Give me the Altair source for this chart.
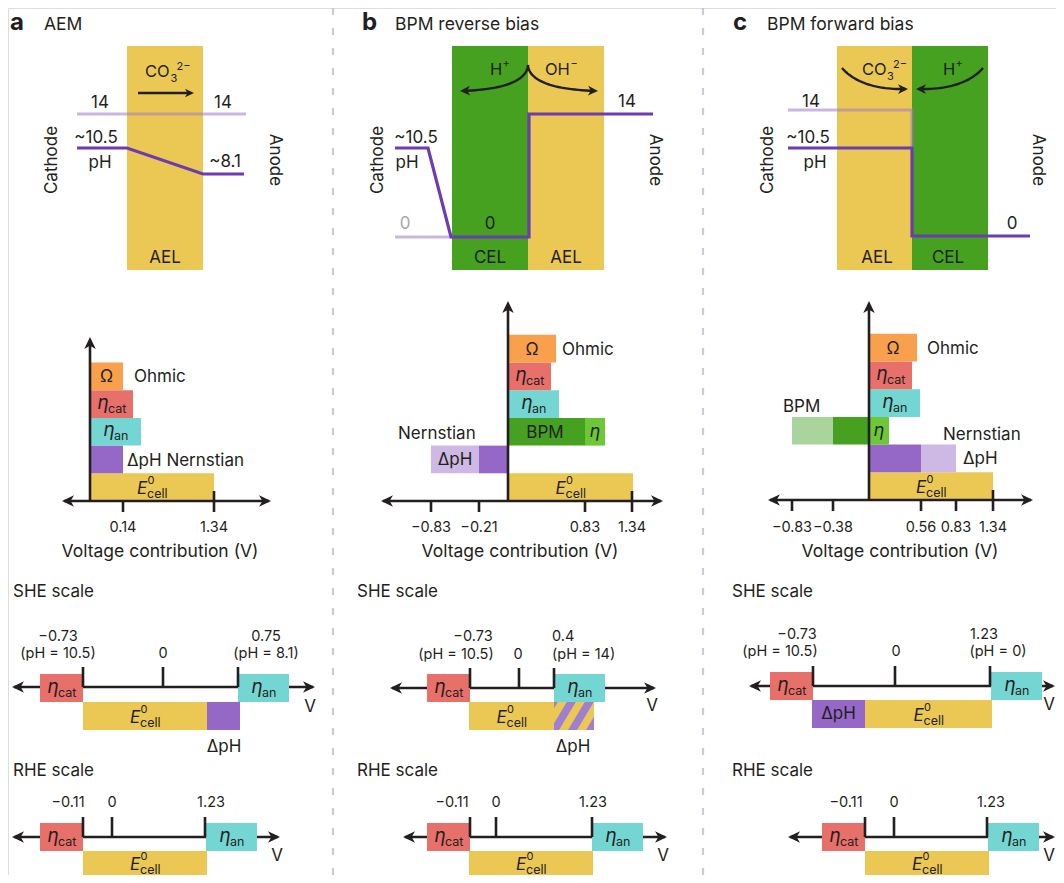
import math
import altair as alt
import pandas as pd

# ---------------- figure constants ----------------
W, H = 1048, 867
X0, X1 = 8, 8 + W
Y0, Y1 = 8, 8 + H
FONT = "Inter"
INK = "#231f20"
YELLOW = "#ebc754"
GREEN = "#45a11f"
LGREEN = "#6ec737"
PALEGREEN = "#a9d49b"
ORANGE = "#f8a04b"
RED = "#e8706b"
TEAL = "#74d6d2"
PURPLE = "#9567c6"
LPURPLE = "#cdb9e3"
LINEP = "#6d3bb2"
PALEP = "#9e7bc9"
SEP = "#c8ccd6"

# ---------------- data (labels / values) ----------------
PANEL_LETTERS = ["a", "b", "c"]
PANEL_TITLES = ["AEM", "BPM reverse bias", "BPM forward bias"]
TICKS_A = ["0.14", "1.34"]
TICKS_B = ["\u22120.83", "\u22120.21", "0.83", "1.34"]
TICKS_C = ["\u22120.83", "\u22120.38", "0.56", "0.83", "1.34"]
SHE_A = ["\u22120.73", "(pH = 10.5)", "0", "0.75", "(pH = 8.1)"]
SHE_B = ["\u22120.73", "(pH = 10.5)", "0", "0.4", "(pH = 14)"]
SHE_C = ["\u22120.73", "(pH = 10.5)", "0", "1.23", "(pH = 0)"]
RHE = ["\u22120.11", "0", "1.23"]

rects, back_lines, lines, heads, texts, hatch = [], [], [], [], [], []
gid = [0]


def R(x, x2, y, y2, fill, op=1.0):
    rects.append(dict(x=x, x2=x2, y=y, y2=y2, fill=fill, op=op))


def L(pts, color=INK, w=2.6, op=1.0, back=False):
    gid[0] += 1
    tgt = back_lines if back else lines
    for i, (x, y) in enumerate(pts):
        tgt.append(dict(g=gid[0], i=i, x=x, y=y, color=color, w=w, op=op))


ARROW = "M0,0L-1,-0.48L-0.72,0L-1,0.48Z"


def A(x, y, ang, size=576):
    heads.append(dict(x=x, y=y, ang=ang % 360, size=size))


def T(x, y, s, size=17, align="left", style="normal", weight="normal",
      angle=0, color=INK, base="alphabetic"):
    texts.append(dict(x=x, y=y, s=s, size=size, align=align, style=style,
                      weight=weight, angle=angle, color=color, base=base))


def eta(cx, cy, sub):
    w = 10 + (18 if sub == "cat" else 14)
    x0 = cx - w / 2
    T(x0, cy + 4.5, "\u03b7", 19, style="italic")
    T(x0 + 10.5, cy + 8.5, sub, 12.5)


def ecell(cx, cy):
    x0 = cx - 15
    T(x0, cy + 7, "E", 17, style="italic")
    T(x0 + 10.5, cy - 3, "0", 11)
    T(x0 + 10, cy + 11, "cell", 12.5)


def omega(cx, cy):
    T(cx, cy + 6, "\u03a9", 17, align="center")


def bez(p0, p1, p2, p3, n=30):
    out = []
    for k in range(n + 1):
        t = k / n
        a = (1 - t) ** 3
        b = 3 * (1 - t) ** 2 * t
        c = 3 * (1 - t) * t ** 2
        d = t ** 3
        out.append((a * p0[0] + b * p1[0] + c * p2[0] + d * p3[0],
                    a * p0[1] + b * p1[1] + c * p2[1] + d * p3[1]))
    return out


def curved_arrow(p0, p1, p2, p3):
    pts = bez(p0, p1, p2, p3)
    L(pts[:-1], INK, 2.4)
    (xa, ya), (xb, yb) = pts[-3], pts[-1]
    A(xb, yb, math.degrees(math.atan2(yb - ya, xb - xa)), 400)


# ---------------- panel titles ----------------
for (lx, tx), letter, title in zip([(10, 44), (362, 395), (733, 767)], PANEL_LETTERS, PANEL_TITLES):
    T(lx, 30, letter, 24, weight="bold")
    T(tx, 30, title, 17.5)

# ---------------- top: membrane schematics ----------------
for (x0, x1, fill) in [(127, 203, YELLOW), (452, 528, GREEN), (528, 604, YELLOW),
                       (837, 912, YELLOW), (912, 988, GREEN)]:
    R(x0, x1, 46, 270, fill)

L([(77, 114), (246, 114)], PALEP, 3.2, 0.55)
L([(77, 148), (127, 148), (203, 174), (244, 174)], LINEP, 3.2)
L([(395, 237), (452, 237)], PALEP, 3.2, 0.55)
L([(395, 148), (428, 148), (451, 237), (529, 237), (529, 114), (653, 114)], LINEP, 3.2)
L([(788, 110), (912, 110), (912, 148)], PALEP, 3.2, 0.55)
L([(788, 148), (912, 148), (912, 236), (1030, 236)], LINEP, 3.2)

# panel a labels
T(100, 108, "14", align="center"); T(223, 108, "14", align="center")
T(96, 143, "~10.5", align="center"); T(100, 168, "pH", align="center")
T(225, 167, "~8.1", align="center")
T(52, 160, "Cathode", angle=270, align="center", base="middle")
T(275, 160, "Anode", angle=90, align="center", base="middle")
T(145, 77, "CO", 16.5); T(170.5, 82, "3", 11); T(176.5, 70, "2\u2212", 11)
L([(138, 93), (188, 93)], INK, 2.4)
A(194, 93, 0, 324)
T(165, 263, "AEL", align="center")

# panel b labels
T(490, 75, "H", 16.5); T(502.5, 67, "+", 11)
T(545, 75, "OH", 16.5); T(570.5, 67, "\u2212", 11)
curved_arrow((528, 65), (527, 82), (500, 90), (460, 91))
curved_arrow((528, 65), (529, 82), (556, 90), (598, 91))
T(627, 107, "14", align="center")
T(416, 143, "~10.5", align="center"); T(407, 168, "pH", align="center")
T(405, 229, "0", align="center", color="#a8a8a8"); T(490, 229, "0", align="center")
T(490, 263, "CEL", align="center"); T(566, 263, "AEL", align="center")
T(378, 160, "Cathode", angle=270, align="center", base="middle")
T(655, 160, "Anode", angle=90, align="center", base="middle")

# panel c labels
T(862, 75, "CO", 16.5); T(887, 80, "3", 11); T(893, 68, "2\u2212", 11)
T(943, 75, "H", 16.5); T(955.5, 67, "+", 11)
curved_arrow((842, 68), (855, 83), (878, 90), (908, 89))
curved_arrow((983, 68), (970, 83), (947, 90), (916, 89))
T(811, 107, "14", align="center")
T(808, 143, "~10.5", align="center"); T(815, 168, "pH", align="center")
T(1012, 229, "0", align="center")
T(877, 263, "AEL", align="center"); T(948, 263, "CEL", align="center")
T(768, 160, "Cathode", angle=270, align="center", base="middle")
T(1038, 160, "Anode", angle=90, align="center", base="middle")

# ---------------- middle: voltage contribution bars ----------------
RH = 27.7


def row(base, i):
    return base - (i + 1) * RH, base - i * RH


def cy(base, i):
    a, b = row(base, i)
    return (a + b) / 2


# panel a (axis x=90, base 501)
BA = 501
BARS_A = [(0, 90, 214, YELLOW), (1, 90, 123, PURPLE), (2, 90, 141, TEAL),
          (3, 90, 133, RED), (4, 90, 123, ORANGE)]
for i, x0, x1, c in BARS_A:
    y0, y1 = row(BA, i)
    R(x0, x1, y0, y1, c)
ecell(152, cy(BA, 0)); eta(111.5, cy(BA, 3), "cat"); eta(115.5, cy(BA, 2), "an")
omega(106.5, cy(BA, 4))
T(134, 382, "Ohmic"); T(127, 466, "\u0394pH Nernstian")
L([(90, 343), (90, 501)], INK, 2.6); A(90, 337, 270)
L([(64, 501), (269, 501)], INK, 2.6); A(62, 501, 180); A(271, 501, 0)
for x, lab, top in zip([123, 214], TICKS_A, [502, 491]):
    L([(x, top), (x, 512)], INK, 2.6)
    T(x, 532, lab, 14.5, align="center")
T(160, 557, "Voltage contribution (V)", 17.5, align="center")

# panel b (axis x=508, base 501)
BB = 501
BARS_B = [(0, 508, 633, YELLOW), (1, 431, 479, LPURPLE), (1, 479, 508, PURPLE),
          (2, 508, 585, GREEN), (2, 585, 605, LGREEN), (3, 508, 559, TEAL),
          (4, 508, 551, RED), (5, 508, 556, ORANGE)]
for i, x0, x1, c in BARS_B:
    y0, y1 = row(BB, i)
    R(x0, x1, y0, y1, c)
ecell(570.5, cy(BB, 0)); eta(529.5, cy(BB, 4), "cat"); eta(533.5, cy(BB, 3), "an")
omega(532, cy(BB, 5))
T(562, 355, "Ohmic")
T(545, cy(BB, 2) + 6, "BPM", align="center")
T(595, cy(BB, 2) + 5, "\u03b7", 18, align="center", style="italic")
T(398, 439, "Nernstian")
T(455, cy(BB, 1) + 6, "\u0394pH", align="center")
L([(508, 307), (508, 501)], INK, 2.6); A(508, 301, 270)
L([(383, 501), (661, 501)], INK, 2.6); A(381, 501, 180); A(663, 501, 0)
for x, lab, top in zip([431, 479, 585, 632], TICKS_B, [502, 502, 502, 491]):
    L([(x, top), (x, 512)], INK, 2.6)
    T(x, 532, lab, 14.5, align="center")
T(520, 557, "Voltage contribution (V)", 17.5, align="center")

# panel c (axis x=869, base 500)
BC = 500
BARS_C = [(0, 869, 993, YELLOW), (1, 869, 921, PURPLE), (1, 921, 956, LPURPLE),
          (2, 792, 833, PALEGREEN), (2, 833, 869, GREEN), (2, 869, 889, LGREEN),
          (3, 869, 920, TEAL), (4, 869, 912, RED), (5, 869, 917, ORANGE)]
for i, x0, x1, c in BARS_C:
    y0, y1 = row(BC, i)
    R(x0, x1, y0, y1, c)
ecell(931, cy(BC, 0)); eta(890.5, cy(BC, 4), "cat"); eta(894.5, cy(BC, 3), "an")
omega(893, cy(BC, 5))
T(927, 354, "Ohmic")
T(783, 412, "BPM")
T(879, cy(BC, 2) + 5, "\u03b7", 18, align="center", style="italic")
T(943, 440, "Nernstian"); T(963, 464, "\u0394pH")
L([(869, 307), (869, 500)], INK, 2.6); A(869, 301, 270)
L([(770, 500), (1031, 500)], INK, 2.6); A(768, 500, 180); A(1033, 500, 0)
for x, lab, top in zip([792, 833, 921, 956, 993], TICKS_C, [501, 501, 501, 501, 490]):
    L([(x, top), (x, 511)], INK, 2.6)
    T(x, 532, lab, 14.5, align="center")
T(900, 557, "Voltage contribution (V)", 17.5, align="center")

# ---------------- SHE / RHE scales ----------------
def scale_axis(y, xl, xr, ticks):
    L([(xl + 2, y), (xr - 2, y)], INK, 2.6, back=True)
    A(xl, y, 180); A(xr, y, 0)
    for x in ticks:
        L([(x, y - 20), (x, y)], INK, 2.6)


# SHE a
T(13, 597, "SHE scale")
scale_axis(687, 12, 315, [83, 163, 238])
R(40, 83, 674, 702, RED); R(238, 289, 674, 702, TEAL)
R(83, 207, 702, 730, YELLOW); R(207, 240, 702, 730, PURPLE)
eta(61.5, 688, "cat"); eta(263.5, 688, "an"); ecell(145, 716)
T(58, 641, SHE_A[0], 14.5, align="center"); T(58, 658, SHE_A[1], 14.5, align="center")
T(163, 658, SHE_A[2], 14.5, align="center")
T(266, 641, SHE_A[3], 14.5, align="center"); T(266, 658, SHE_A[4], 14.5, align="center")
T(310, 712, "V", 17, align="center")
T(224, 752, "\u0394pH", 17, align="center")

# SHE b
T(357, 597, "SHE scale")
scale_axis(688, 390, 656, [470, 519, 554])
R(427, 470, 674, 702, RED); R(554, 605, 674, 702, TEAL)
R(469, 554, 702, 730, YELLOW); R(554, 594, 702, 730, YELLOW)
# hatched delta-pH block (purple stripes over yellow)
HX0, HX1, HY0, HY1 = 554, 594, 702, 730
K, PERIOD, SW = 0.6, 18, 9
for s, c in enumerate(range(HX0 - 40, HX1 + 10, PERIOD)):
    for k in range(0, 81):
        x = HX0 + k * 0.5
        lo = HY1 - (x - c) / K
        hi = HY1 - (x - c - SW) / K
        lo_c = min(max(lo, HY0), HY1)
        hi_c = min(max(hi, HY0), HY1)
        a_, b_ = sorted([lo_c, hi_c])
        hatch.append(dict(s=s, x=x, lo=a_, hi=b_))
eta(448.5, 688, "cat"); eta(579.5, 688, "an"); ecell(511.5, 716)
T(473, 641, SHE_B[0], 14.5, align="center"); T(456, 659, SHE_B[1], 14.5, align="center")
T(518, 659, SHE_B[2], 14.5, align="center")
T(552, 641, SHE_B[3], 14.5); T(552, 659, SHE_B[4], 14.5)
T(652, 711, "V", 17, align="center")
T(573, 752, "\u0394pH", 17, align="center")

# SHE c
T(732, 597, "SHE scale")
scale_axis(686, 749, 1055, [813, 895, 990])
R(770, 813, 672, 700, RED); R(991, 1042, 672, 700, TEAL)
R(812, 865, 700, 728, PURPLE); R(865, 992, 700, 728, YELLOW)
eta(791.5, 686, "cat"); eta(1016.5, 686, "an"); ecell(928.5, 714)
T(838.5, 719, "\u0394pH", 17, align="center")
T(797, 639, SHE_C[0], 14.5, align="center"); T(780, 656, SHE_C[1], 14.5, align="center")
T(896, 656, SHE_C[2], 14.5, align="center")
T(984, 639, SHE_C[3], 14.5, align="center"); T(998, 656, SHE_C[4], 14.5, align="center")
T(1049, 710, "V", 17, align="center")

# RHE a
T(13, 776, "RHE scale")
scale_axis(837, 12, 280, [83, 112, 205])
R(40, 83, 823, 851, RED); R(206, 257, 823, 851, TEAL); R(83, 207, 851, 879, YELLOW)
eta(61.5, 837, "cat"); eta(231.5, 837, "an"); ecell(145, 862.5)
for x, lab in zip([68, 112, 211], RHE):
    T(x, 807, lab, 14.5, align="center")
T(277, 861, "V", 17, align="center")

# RHE b
T(357, 776, "RHE scale")
scale_axis(837, 403, 667, [470, 496, 592])
R(427, 470, 823, 851, RED); R(592, 643, 823, 851, TEAL); R(469, 593, 851, 879, YELLOW)
eta(448.5, 837, "cat"); eta(617.5, 837, "an"); ecell(531, 862.5)
for x, lab in zip([452, 496, 593], RHE):
    T(x, 807, lab, 14.5, align="center")
T(663, 861, "V", 17, align="center")

# RHE c
T(732, 776, "RHE scale")
scale_axis(837, 788, 1055, [865, 894, 987])
R(822, 865, 823, 851, RED); R(988, 1039, 823, 851, TEAL); R(865, 989, 851, 879, YELLOW)
eta(843.5, 837, "cat"); eta(1013.5, 837, "an"); ecell(927, 862.5)
for x, lab in zip([846, 894, 991], RHE):
    T(x, 807, lab, 14.5, align="center")
T(1049, 861, "V", 17, align="center")

# ---------------- build chart ----------------
XS = alt.Scale(domain=[X0, X1], nice=False, zero=False)
YS = alt.Scale(domain=[Y0, Y1], nice=False, zero=False, reverse=True)
xq = alt.X("x:Q", scale=XS, axis=None)
yq = alt.Y("y:Q", scale=YS, axis=None)

layers = []

sep_df = pd.DataFrame(dict(x=[333, 703], y=[Y0, Y0], y2=[Y1, Y1]))
layers.append(alt.Chart(sep_df).mark_rule(color=SEP, strokeWidth=2.2, strokeDash=[7, 13]).encode(
    x=xq, y=yq, y2="y2:Q"))


def line_layer(rows):
    return alt.Chart(pd.DataFrame(rows)).mark_line(strokeCap="butt", strokeJoin="miter").encode(
        x=xq, y=yq, detail="g:N", order="i:Q",
        color=alt.Color("color:N", scale=None),
        strokeWidth=alt.StrokeWidth("w:Q", scale=None),
        opacity=alt.Opacity("op:Q", scale=None))


layers.append(line_layer(back_lines))
layers.append(alt.Chart(pd.DataFrame(rects)).mark_rect(strokeWidth=0).encode(
    x=xq, x2="x2:Q", y=yq, y2="y2:Q",
    color=alt.Color("fill:N", scale=None),
    opacity=alt.Opacity("op:Q", scale=None)))
layers.append(alt.Chart(pd.DataFrame(hatch)).mark_area(orient="vertical", color="#a07ed0").encode(
    x=xq, y=alt.Y("lo:Q", scale=YS, axis=None), y2="hi:Q", detail="s:N"))
layers.append(line_layer(lines))
layers.append(alt.Chart(pd.DataFrame(heads)).mark_point(
    shape=ARROW, filled=True, opacity=1, strokeWidth=0, color=INK).encode(
    x=xq, y=yq, angle=alt.Angle("ang:Q", scale=None), size=alt.Size("size:Q", scale=None)))

tdf = pd.DataFrame(texts)
for (al, st, wt, bs), sub in tdf.groupby(["align", "style", "weight", "base"]):
    layers.append(alt.Chart(sub.reset_index(drop=True)).mark_text(
        align=al, baseline=bs, font=FONT, fontStyle=st, fontWeight=wt).encode(
        x=xq, y=yq, text="s:N",
        size=alt.Size("size:Q", scale=None),
        angle=alt.Angle("angle:Q", scale=None),
        color=alt.Color("color:N", scale=None)))

chart = alt.layer(*layers).properties(
    width=W, height=H, padding=0,
    autosize=alt.AutoSizeParams(type="none"),
).configure_view(strokeWidth=0).configure(background="white")

chart.save("out.html", embed_options={"renderer": "svg", "actions": False})
